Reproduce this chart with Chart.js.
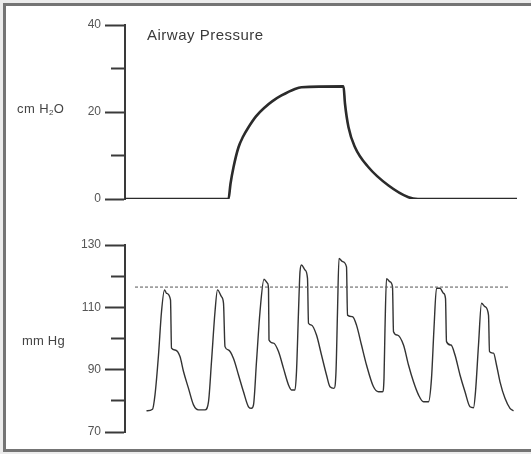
<!DOCTYPE html>
<html>
<head>
<meta charset="utf-8">
<script src="https://cdn.jsdelivr.net/npm/chart.js@4.4.1/dist/chart.umd.min.js"></script>
<style>
  html, body { margin: 0; padding: 0; overflow: hidden; background: #ececec; }
  #wrap { position: relative; width: 531px; height: 454px; }
  #frame {
    position: absolute; left: 3px; top: 3px; width: 600px; height: 449px;
    box-sizing: border-box; border: 3px solid #747474; border-right: none; background: #fff;
  }
  canvas { position: absolute; left: 0; top: 0; }
  .lbl {
    position: absolute; white-space: nowrap; line-height: 1;
    font-family: "Liberation Sans", Arial, sans-serif; color: #444;
  }
  .lbl sub { font-size: 8px; vertical-align: -2px; line-height: 0; }
</style>
</head>
<body>
<div id="wrap">
  <div id="frame"></div>
  <canvas id="airwayChart" width="531" height="454"></canvas>
  <canvas id="arterialChart" width="531" height="454"></canvas>
  <div class="lbl" style="left:147px; top:27px; font-size:15px; letter-spacing:0.5px; color:#3a3a3a;">Airway Pressure</div>
  <div class="lbl" style="left:17px; top:102px; font-size:13px; letter-spacing:0.4px;">cm H<sub>2</sub>O</div>
  <div class="lbl" style="left:22px; top:334px; font-size:13px; letter-spacing:0.2px;">mm Hg</div>
</div>

<script>
// ========== DATA ==========
// time in seconds (no labelled x axis in the figure)
const airwayTime = [0, 2.07, 2.11, 2.17, 2.27, 2.36, 2.47, 2.62, 2.8, 2.95, 3.13, 3.4, 3.53, 4.37, 4.4, 4.47, 4.6, 4.87, 5.27, 5.67, 5.86, 7.84];
const airwayValues = [0, 0, 3.5, 7.3, 11.9, 14.3, 16.5, 19.0, 21.1, 22.5, 23.8, 25.3, 25.7, 25.9, 21.9, 16.5, 11.9, 7.3, 3.1, 0.4, 0, 0];

const arterialTime = [
  0.43, 0.55, 0.6, 0.67, 0.73, 0.79, 0.83, 0.91, 0.93, 1.0, 1.1, 1.17, 1.27, 1.37, 1.47,
  1.6, 1.67, 1.73, 1.8, 1.85, 1.93, 1.97, 2.0, 2.07, 2.17, 2.27, 2.37, 2.47, 2.53,
  2.57, 2.63, 2.7, 2.78, 2.85, 2.87, 2.88, 2.97, 3.07, 3.17, 3.27, 3.33,
  3.4, 3.43, 3.47, 3.5, 3.53, 3.6, 3.65, 3.67, 3.73, 3.83, 3.93, 4.03, 4.1,
  4.18, 4.22, 4.25, 4.28, 4.35, 4.43, 4.45, 4.55, 4.63, 4.73, 4.83, 4.97, 5.07,
  5.15, 5.18, 5.2, 5.23, 5.3, 5.35, 5.37, 5.45, 5.57, 5.67, 5.77, 5.87, 5.97,
  6.07, 6.13, 6.18, 6.23, 6.3, 6.37, 6.41, 6.43, 6.52, 6.6, 6.7, 6.8, 6.9,
  6.97, 7.01, 7.07, 7.13, 7.2, 7.27, 7.29, 7.37, 7.43, 7.5, 7.6, 7.7, 7.77
];
const arterialValues = [
  76.8, 77.3, 81.9, 94.7, 108.6, 115.6, 114.5, 112.4, 96.9, 96.3, 94.2, 89.4, 84.0, 78.7, 77.1,
  77.1, 79.7, 92.6, 108.6, 115.6, 113.4, 111.3, 97.4, 96.3, 93.6, 88.3, 82.9, 78.1, 77.6,
  78.7, 92.6, 108.6, 119.0, 117.7, 116.1, 99.5, 98.5, 95.8, 90.4, 85.1, 83.5,
  83.5, 89.4, 108.6, 121.4, 123.6, 122.0, 119.3, 104.9, 104.3, 101.1, 94.7, 88.3, 84.5,
  84.0, 89.4, 108.6, 125.7, 124.7, 123.0, 107.5, 107.0, 104.3, 97.9, 91.5, 84.5, 82.9,
  82.9, 87.2, 103.3, 119.2, 118.2, 116.6, 102.2, 101.1, 97.9, 91.5, 86.1, 81.9, 79.7,
  79.7, 87.2, 103.3, 116.1, 116.1, 114.5, 112.9, 99.0, 97.9, 94.7, 88.3, 82.9, 78.1,
  77.8, 82.9, 97.9, 111.3, 110.2, 107.5, 95.8, 95.3, 91.5, 86.1, 80.8, 77.6, 76.8
];

const refTime = [0.2, 7.7];
const refValues = [116.5, 116.5];

const airwayMajorTicks = [0, 20, 40];
const arterialMajorTicks = [70, 90, 110, 130];

const toPoints = (xs, ys) => xs.map((x, i) => ({ x: x, y: ys[i] }));

// ========== SHARED AXIS SETUP ==========
function yAxis(min, max, majors) {
  const isMajor = (ctx) => ctx.tick && majors.includes(ctx.tick.value);
  return {
    min: min,
    max: max,
    afterFit: (scale) => { scale.width = 125; },
    border: { display: true, color: "#3a3a3a", width: 2 },
    grid: {
      drawOnChartArea: false,
      drawTicks: true,
      tickLength: 20,
      tickColor: "#3a3a3a",
      tickWidth: 2,
      // minor ticks: only the 13px next to the axis
      tickBorderDash: (ctx) => (isMajor(ctx) ? [] : [13, 6]),
      tickBorderDashOffset: (ctx) => (isMajor(ctx) ? 0 : 13),
    },
    ticks: {
      stepSize: 10,
      padding: 4,
      color: "#555",
      font: { family: "Liberation Sans", size: 12 },
      callback: (v) => (majors.includes(v) ? String(v) : ""),
    },
  };
}

const xAxis = { type: "linear", min: 0, max: 8, display: false };

const baseOptions = (padding, yScale) => ({
  responsive: false,
  animation: false,
  layout: { padding: padding },
  plugins: { legend: { display: false }, tooltip: { enabled: false } },
  scales: { x: xAxis, y: yScale },
});

// ========== AIRWAY PRESSURE ==========
new Chart(document.getElementById("airwayChart"), {
  type: "line",
  data: {
    datasets: [
      {
        data: toPoints(airwayTime, airwayValues),
        borderColor: "#2b2b2b",
        borderWidth: 2.6,
        pointRadius: 0,
        cubicInterpolationMode: "monotone",
      },
    ],
  },
  options: baseOptions({ left: 0, top: 25, right: 6, bottom: 255 }, yAxis(0, 40, airwayMajorTicks)),
});

// ========== ARTERIAL PRESSURE ==========
new Chart(document.getElementById("arterialChart"), {
  type: "line",
  data: {
    datasets: [
      {
        data: toPoints(refTime, refValues),
        borderColor: "#555",
        borderWidth: 1,
        borderDash: [3, 2],
        pointRadius: 0,
      },
      {
        data: toPoints(arterialTime, arterialValues),
        borderColor: "#333",
        borderWidth: 1.4,
        pointRadius: 0,
        cubicInterpolationMode: "monotone",
      },
    ],
  },
  options: baseOptions({ left: 0, top: 245, right: 6, bottom: 22 }, yAxis(70, 130, arterialMajorTicks)),
});
</script>
</body>
</html>
